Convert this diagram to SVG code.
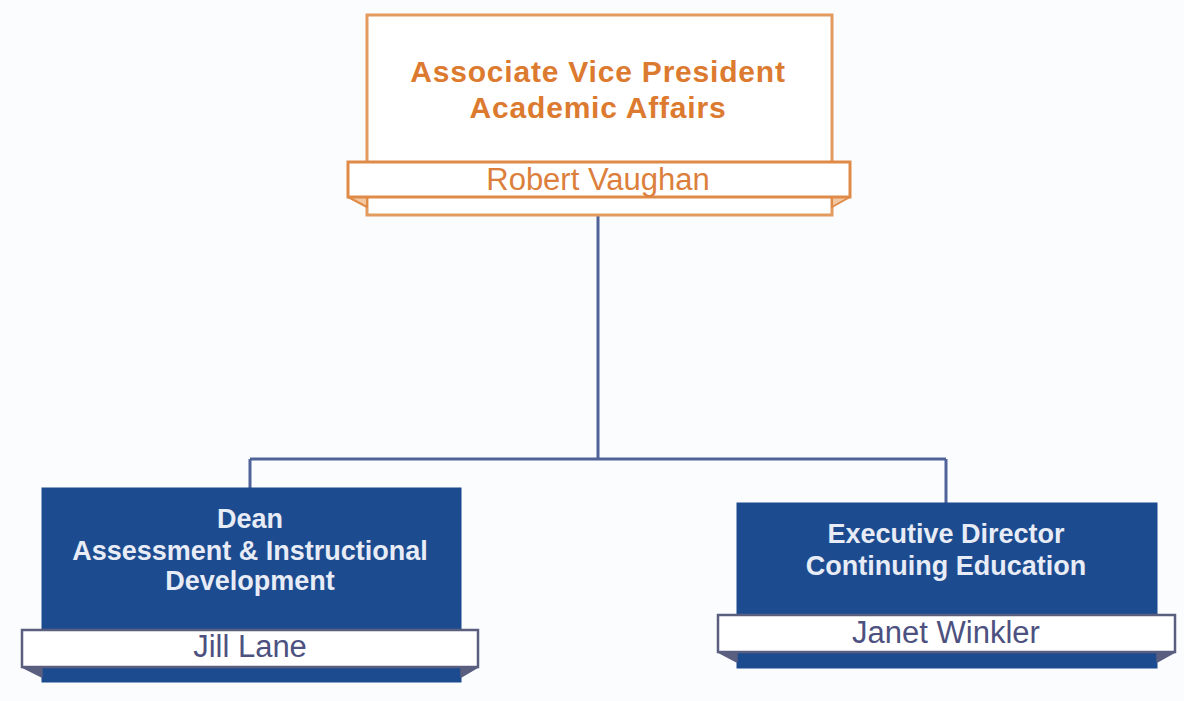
<svg xmlns="http://www.w3.org/2000/svg" width="1184" height="701" viewBox="0 0 1184 701">
<style>
.bg{fill:#fbfcfe}
.conn{fill:none;stroke:#4f6398;stroke-width:3}
.obox{fill:#ffffff;stroke:#e39a5e;stroke-width:3}
.oband{fill:#ffffff;stroke:#e08a48;stroke-width:3}
.ofold{fill:#f3c9a4;stroke:#e08a48;stroke-width:2;stroke-linejoin:round}
.bbox{fill:#1d4b8f;stroke:#1d4b8f;stroke-width:1}
.bband{fill:#ffffff;stroke:#5a5f80;stroke-width:2.5}
.bfold{fill:#5a5f80;stroke:#5a5f80;stroke-width:1.5;stroke-linejoin:round}
.t{font-family:"Liberation Sans",Arial,sans-serif;text-anchor:middle}
.otitle{font-size:30px;font-weight:bold;fill:#dc7a30;letter-spacing:0.8px}
.oname{font-size:31px;fill:#dc7f3c}
.btitle{font-size:27px;font-weight:bold;fill:#e8ecf6}
.bname{font-size:31px;fill:#4d5180}
</style>
<rect class="bg" x="0" y="0" width="1184" height="701"/>
<g id="connectors">
<path class="conn" d="M598,215 V459 M250,459 H946 M250,459 V488 M946,459 V503"/>
</g>
<g id="node-avp">
<rect class="obox" x="367" y="15" width="465" height="200"/>
<polygon class="ofold" points="348,197 367,197 367,207"/>
<polygon class="ofold" points="850,197 832,197 832,207"/>
<rect class="oband" x="348" y="162" width="502" height="35"/>
<text class="t otitle" x="598" y="82">Associate Vice President</text>
<text class="t otitle" x="598" y="118">Academic Affairs</text>
<text class="t oname" x="598" y="190">Robert Vaughan</text>
</g>
<g id="node-dean">
<rect class="bbox" x="42" y="488" width="419" height="194"/>
<polygon class="bfold" points="22,667 42,667 42,677"/>
<polygon class="bfold" points="478,667 461,667 461,677"/>
<rect class="bband" x="22" y="630" width="456" height="37"/>
<text class="t btitle" x="250" y="528">Dean</text>
<text class="t btitle" x="250" y="560">Assessment &amp; Instructional</text>
<text class="t btitle" x="250" y="590">Development</text>
<text class="t bname" x="250" y="657">Jill Lane</text>
</g>
<g id="node-exec">
<rect class="bbox" x="737" y="503" width="420" height="165"/>
<polygon class="bfold" points="718,652 737,652 737,662"/>
<polygon class="bfold" points="1175,652 1157,652 1157,662"/>
<rect class="bband" x="718" y="615" width="457" height="37"/>
<text class="t btitle" x="946" y="543">Executive Director</text>
<text class="t btitle" x="946" y="575">Continuing Education</text>
<text class="t bname" x="946" y="643">Janet Winkler</text>
</g>
</svg>
